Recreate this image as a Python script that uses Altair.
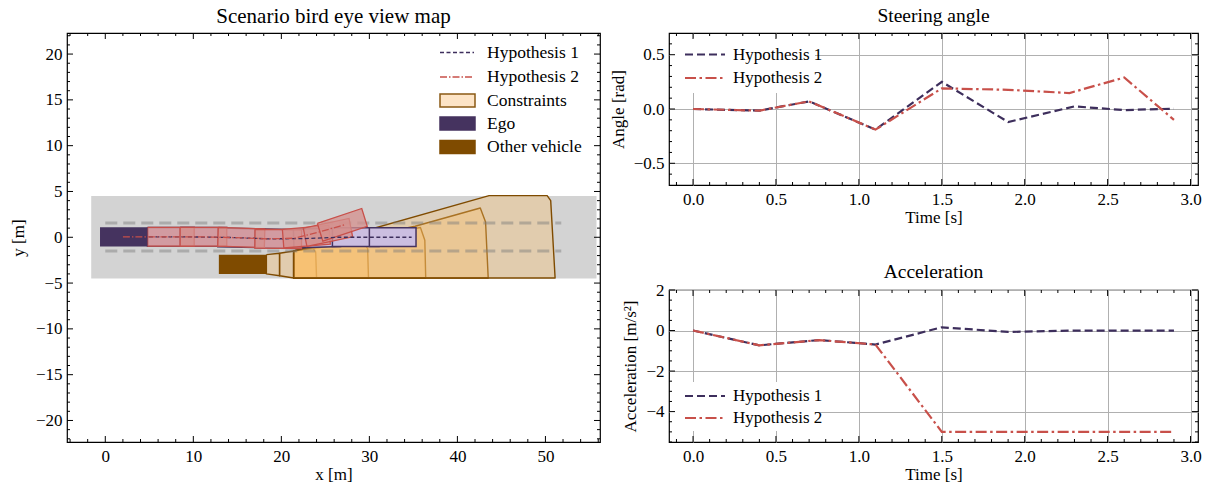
import altair as alt
import pandas as pd
import numpy as np

FONT = "Liberation Serif"

# ---------------- data: right panels ----------------
steer_t_h1 = [0.0, 0.4, 0.7, 1.1, 1.5, 1.9, 2.3, 2.6, 2.9]
steer_h1 = [0.0, -0.015, 0.07, -0.19, 0.25, -0.12, 0.024, -0.01, 0.003]
steer_t_h2 = [0.0, 0.4, 0.7, 1.1, 1.5, 1.9, 2.27, 2.6, 2.9]
steer_h2 = [0.0, -0.015, 0.07, -0.19, 0.19, 0.177, 0.147, 0.29, -0.10]

acc_t = [0.0, 0.4, 0.76, 1.1, 1.5, 1.9, 2.3, 2.9]
acc_h1 = [0.0, -0.73, -0.47, -0.69, 0.16, -0.07, 0.0, 0.0]
acc_h2 = [0.0, -0.73, -0.47, -0.69, -5.0, -5.0, -5.0, -5.0]

time_ticks = [0.0, 0.5, 1.0, 1.5, 2.0, 2.5, 3.0]
steer_ticks = [-0.5, 0.0, 0.5]
acc_ticks = [-4, -2, 0, 2]

# ---------------- data: map ----------------
map_x_ticks = [0, 10, 20, 30, 40, 50]
map_y_ticks = [-20, -15, -10, -5, 0, 5, 10, 15, 20]

road_x = [-1.6, 55.8]
road_y = [-4.5, 4.5]
lane_x = [0.0, 51.8]
lane_y = [-1.5, 1.55]

ego_x = [-0.6, 4.8]
ego_y = [-1.0, 1.1]
other_x = [12.9, 18.3]
other_y = [-4.0, -1.9]

veh_len = 5.3
veh_wid = 2.05
# hypothesis 1 boxes: rear-centre x, y, heading
h1_rear_x = [4.8, 8.5, 12.8, 17.0, 21.4, 25.8, 30.0]
h1_rear_y = [0.05, 0.05, 0.0, -0.1, -0.15, 0.02, 0.02]
h1_head = [0.0, 0.0, -0.02, -0.02, 0.03, 0.0, 0.0]
# hypothesis 2 boxes
h2_rear_x = [4.8, 8.5, 12.8, 17.0, 20.2, 22.7, 24.4]
h2_rear_y = [0.05, 0.05, 0.05, -0.15, -0.15, 0.0, 0.55]
h2_head = [0.0, 0.0, -0.03, -0.01, 0.08, 0.2, 0.31]

# trajectories
traj1_x = [2.0, 6.5, 10.5, 14.5, 18.5, 22.5, 26.5, 30.5, 34.8]
traj1_y = [0.05, 0.05, 0.03, -0.03, -0.17, -0.15, 0.0, 0.0, 0.0]
traj2_x = [2.0, 6.5, 10.5, 14.5, 18.5, 21.5, 24.2, 27.3]
traj2_y = [0.05, 0.05, 0.05, -0.03, -0.17, -0.1, 0.55, 1.4]

# constraint polygons (x list, y list)
cons_x = [
    [18.3, 19.8, 19.8, 18.3],
    [19.8, 21.4, 21.4, 19.8],
    [21.4, 23.5, 23.9, 24.0, 21.4],
    [21.4, 29.2, 29.8, 29.9, 21.4],
    [21.4, 35.8, 36.3, 36.4, 21.4],
    [21.4, 35.2, 42.6, 43.2, 43.5, 21.4],
    [21.4, 43.6, 50.2, 50.6, 51.1, 21.4],
]
cons_y = [
    [-1.9, -1.75, -4.2, -4.0],
    [-1.75, -1.5, -4.45, -4.2],
    [-1.5, -1.1, -1.6, -4.45, -4.45],
    [-1.5, -0.5, -1.2, -4.45, -4.45],
    [-1.5, 1.06, -0.33, -4.45, -4.45],
    [-1.5, 1.2, 3.2, 1.67, -4.45, -4.45],
    [-1.5, 4.55, 4.55, 4.0, -4.45, -4.45],
]

# ---------------- helpers ----------------
def box_rows(rx, ry, hd, tag):
    rows = []
    for k, (x0, y0, h) in enumerate(zip(rx, ry, hd)):
        c, s = np.cos(h), np.sin(h)
        nx, ny = -s, c
        w = veh_wid / 2
        pts = [
            (x0 + nx * w, y0 + ny * w),
            (x0 + c * veh_len + nx * w, y0 + s * veh_len + ny * w),
            (x0 + c * veh_len - nx * w, y0 + s * veh_len - ny * w),
            (x0 - nx * w, y0 - ny * w),
        ]
        pts.append(pts[0])
        for i, (px, py) in enumerate(pts):
            rows.append({"id": f"{tag}{k:02d}", "i": i, "x": px, "y": py})
    return pd.DataFrame(rows)


def poly_rows(xs, ys, tag):
    rows = []
    for k, (px, py) in enumerate(zip(xs, ys)):
        px = list(px) + [px[0]]
        py = list(py) + [py[0]]
        for i, (a, b) in enumerate(zip(px, py)):
            rows.append({"id": f"{tag}{k:02d}", "i": i, "x": a, "y": b})
    return pd.DataFrame(rows)


DUMMY = pd.DataFrame({"d": [0]})


def tick_rules(vals, ch, scale, axis, W, H, L):
    df = pd.DataFrame({"v": vals})
    base = alt.Chart(df).mark_rule(color="black", strokeWidth=1)
    if ch == "x":
        enc = alt.X("v:Q", scale=scale, axis=axis)
        return [base.encode(x=enc, y=alt.value(H), y2=alt.value(H - L)),
                base.encode(x=enc, y=alt.value(0), y2=alt.value(L))]
    enc = alt.Y("v:Q", scale=scale, axis=axis)
    return [base.encode(y=enc, x=alt.value(0), x2=alt.value(L)),
            base.encode(y=enc, x=alt.value(W), x2=alt.value(W - L))]


def legend_layers(entries, x0, x1, xt, fs):
    out = []
    for e in entries:
        y = e["y"]
        if e["kind"] == "line":
            out.append(alt.Chart(DUMMY).mark_rule(color=e["color"], strokeDash=e["dash"],
                                                  strokeWidth=e["w"]).encode(
                x=alt.value(x0), x2=alt.value(x1), y=alt.value(y)))
        else:
            out.append(alt.Chart(DUMMY).mark_rect(fill=e["fill"], stroke=e["stroke"],
                                                  strokeWidth=1.5).encode(
                x=alt.value(x0), x2=alt.value(x1 + 1), y=alt.value(y - 6.5),
                y2=alt.value(y + 6.5)))
        out.append(alt.Chart(DUMMY).mark_text(align="left", baseline="middle", font=FONT,
                                              fontSize=fs, color="black").encode(
            x=alt.value(xt), y=alt.value(y), text=alt.value(e["label"])))
    return out


PURPLE = "#3d2e5c"
RED = "#c8504a"

# ---------------- map panel ----------------
MW, MH = 533, 409
xs_map = alt.Scale(domain=[-4.35, 56.2], nice=False, zero=False)
ys_map = alt.Scale(domain=[-22.35, 22.3], nice=False, zero=False)
ax_mx = alt.Axis(values=map_x_ticks, format="d", title="x [m]", ticks=False, domain=False,
                 grid=False, labelPadding=6, titlePadding=2)
ax_my = alt.Axis(values=map_y_ticks, format="d", title="y [m]", ticks=False, domain=False,
                 grid=False, labelPadding=5, titlePadding=8)


def XM(f="x"):
    return alt.X(f"{f}:Q", scale=xs_map, axis=ax_mx)


def YM(f="y"):
    return alt.Y(f"{f}:Q", scale=ys_map, axis=ax_my)


road_df = pd.DataFrame({"x": [road_x[0]], "x2": [road_x[1]], "y": [road_y[0]], "y2": [road_y[1]]})
road = alt.Chart(road_df).mark_rect(color="#d3d3d3").encode(x=XM(), x2="x2:Q", y=YM(), y2="y2:Q")

cons = alt.Chart(poly_rows(cons_x, cons_y, "c")).mark_line(
    fill="#fbbf66", fillOpacity=0.34, stroke="#7f4b00", strokeWidth=1.4, strokeJoin="round"
).encode(x=XM(), y=YM(), order="i:Q", detail="id:N")

lane_df = pd.DataFrame({"x": [lane_x[0]] * 2, "x2": [lane_x[1]] * 2, "y": lane_y})
lanes = alt.Chart(lane_df).mark_rule(color="#7a7a7a", opacity=0.45, strokeWidth=3,
                                     strokeDash=[12, 6]).encode(x=XM(), x2="x2:Q", y=YM())

h1_boxes = alt.Chart(box_rows(h1_rear_x, h1_rear_y, h1_head, "a")).mark_line(
    fill="#cbbee0", stroke="#45335f", strokeWidth=1.5, strokeJoin="miter"
).encode(x=XM(), y=YM(), order="i:Q", detail="id:N")

h2_boxes = alt.Chart(box_rows(h2_rear_x, h2_rear_y, h2_head, "b")).mark_line(
    fill="#d48f8c", fillOpacity=0.75, stroke=RED, strokeWidth=1.3, strokeJoin="miter"
).encode(x=XM(), y=YM(), order="i:Q", detail="id:N")

veh_df = pd.DataFrame({"x": [ego_x[0], other_x[0]], "x2": [ego_x[1], other_x[1]],
                       "y": [ego_y[0], other_y[0]], "y2": [ego_y[1], other_y[1]],
                       "k": ["Ego", "Other vehicle"]})
vehicles = alt.Chart(veh_df).mark_rect().encode(
    x=XM(), x2="x2:Q", y=YM(), y2="y2:Q",
    color=alt.Color("k:N", scale=alt.Scale(domain=["Ego", "Other vehicle"],
                                           range=["#45335f", "#7f4b00"]), legend=None))

traj1 = alt.Chart(pd.DataFrame({"x": traj1_x, "y": traj1_y, "i": range(len(traj1_x))})).mark_line(
    color=PURPLE, strokeWidth=1.3, strokeDash=[4, 2.5]).encode(x=XM(), y=YM(), order="i:Q")
traj2 = alt.Chart(pd.DataFrame({"x": traj2_x, "y": traj2_y, "i": range(len(traj2_x))})).mark_line(
    color=RED, strokeWidth=1.3, strokeDash=[7, 2, 1.5, 2]).encode(x=XM(), y=YM(), order="i:Q")

map_minor_x = [v for v in np.arange(-4, 57, 2) if v % 10 != 0]
map_minor_y = [v for v in np.arange(-22, 23, 1) if v % 5 != 0]
map_ticks = (tick_rules(map_x_ticks, "x", xs_map, ax_mx, MW, MH, 6) +
             tick_rules(map_minor_x, "x", xs_map, ax_mx, MW, MH, 3) +
             tick_rules(map_y_ticks, "y", ys_map, ax_my, MW, MH, 6) +
             tick_rules(map_minor_y, "y", ys_map, ax_my, MW, MH, 3))

map_leg = legend_layers([
    {"kind": "line", "y": 19.5, "color": PURPLE, "dash": [4, 2.5], "w": 1.3, "label": "Hypothesis 1"},
    {"kind": "line", "y": 44, "color": RED, "dash": [7, 2, 1.5, 2], "w": 1.3, "label": "Hypothesis 2"},
    {"kind": "patch", "y": 67.5, "fill": "#fde4c6", "stroke": "#8a5a14", "label": "Constraints"},
    {"kind": "patch", "y": 90.5, "fill": "#45335f", "stroke": "#45335f", "label": "Ego"},
    {"kind": "patch", "y": 114, "fill": "#7f4b00", "stroke": "#7f4b00", "label": "Other vehicle"},
], 373, 407, 420, 17.5)

map_chart = alt.layer(road, cons, lanes, h1_boxes, h2_boxes, vehicles, traj1, traj2,
                      *map_ticks, *map_leg).properties(
    width=MW, height=MH,
    title=alt.TitleParams("Scenario bird eye view map", fontSize=21, offset=6))

# ---------------- right panels ----------------
RW, RH = 529, 152
xs_t = alt.Scale(domain=[-0.145, 3.045], nice=False, zero=False)
minor_t = [round(v, 1) for v in np.arange(-0.1, 3.05, 0.1) if abs(v * 2 - round(v * 2)) > 1e-6]


def ts_panel(title, t1, v1, t2, v2, ys, yvals, yfmt, ytitle, minor_y, leg_y, bg_y, toff):
    ax_t = alt.Axis(values=time_ticks, format=".1f", title="Time [s]", ticks=False, domain=False,
                    grid=True, gridColor="#b0b0b0", gridWidth=1, labelPadding=6, titlePadding=2)
    ax_v = alt.Axis(values=yvals, format=yfmt, title=ytitle, ticks=False, domain=False, grid=True,
                    gridColor="#b0b0b0", gridWidth=1, labelPadding=5, titlePadding=6)
    d1 = pd.DataFrame({"t": t1, "v": v1})
    d2 = pd.DataFrame({"t": t2, "v": v2})
    l1 = alt.Chart(d1).mark_line(color=PURPLE, strokeWidth=2.2, strokeDash=[8, 4]).encode(
        x=alt.X("t:Q", scale=xs_t, axis=ax_t), y=alt.Y("v:Q", scale=ys, axis=ax_v))
    l2 = alt.Chart(d2).mark_line(color=RED, strokeWidth=2.2, strokeDash=[11, 3.5, 2.5, 3.5]).encode(
        x=alt.X("t:Q", scale=xs_t, axis=ax_t), y=alt.Y("v:Q", scale=ys, axis=ax_v))
    bg = alt.Chart(DUMMY).mark_rect(color="white").encode(
        x=alt.value(1), x2=alt.value(146), y=alt.value(bg_y[0]), y2=alt.value(bg_y[1]))
    leg = legend_layers([
        {"kind": "line", "y": leg_y[0], "color": PURPLE, "dash": [8, 4], "w": 2.2, "label": "Hypothesis 1"},
        {"kind": "line", "y": leg_y[1], "color": RED, "dash": [11, 3.5, 2.5, 3.5], "w": 2.2,
         "label": "Hypothesis 2"},
    ], 16, 56, 64, 17)
    tk = (tick_rules(time_ticks, "x", xs_t, ax_t, RW, RH, 6) +
          tick_rules(minor_t, "x", xs_t, ax_t, RW, RH, 3) +
          tick_rules(yvals, "y", ys, ax_v, RW, RH, 6) +
          tick_rules(minor_y, "y", ys, ax_v, RW, RH, 3))
    return alt.layer(l1, l2, bg, *leg, *tk).properties(
        width=RW, height=RH, title=alt.TitleParams(title, fontSize=19.5, offset=toff))


ys_steer = alt.Scale(domain=[-0.7, 0.7], nice=False, zero=False)
minor_steer = [round(v, 1) for v in np.arange(-0.6, 0.65, 0.1) if abs(v * 2 - round(v * 2)) > 1e-6]
steer_chart = ts_panel("Steering angle", steer_t_h1, steer_h1, steer_t_h2, steer_h2, ys_steer,
                       steer_ticks, ".1f", "Angle [rad]", minor_steer, [21.5, 45], [5, 60], 6)

ys_acc = alt.Scale(domain=[-5.5, 2.0], nice=False, zero=False)
minor_acc = [v for v in np.arange(-5.5, 2.01, 0.5) if v % 2 != 0]
acc_chart = ts_panel("Acceleration", acc_t, acc_h1, acc_t, acc_h2, ys_acc,
                     acc_ticks, "d", "Acceleration [m/s²]", minor_acc, [106, 128], [92, 141], -1)

right = alt.vconcat(steer_chart, acc_chart, spacing=34)

chart = alt.hconcat(map_chart, right, spacing=6).properties(
    padding={"left": 8, "top": 4, "right": 5, "bottom": 5}
).configure_axis(
    labelFont=FONT, titleFont=FONT, labelFontSize=17, titleFontSize=17,
    labelColor="black", titleColor="black", titleFontWeight="normal"
).configure_title(
    font=FONT, fontWeight="normal", color="black", anchor="middle"
).configure_view(
    stroke="black", strokeWidth=1.2
)

chart.save("out.html", embed_options={"renderer": "svg", "actions": False})
